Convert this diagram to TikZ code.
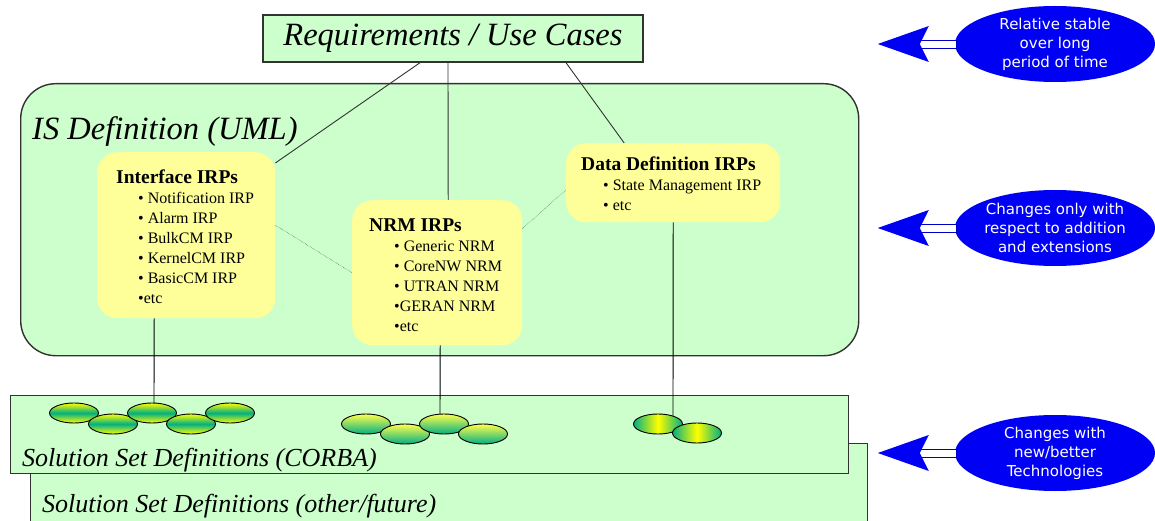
\documentclass[tikz,border=0pt]{standalone}
\usepackage{fontspec}
\setmainfont{Liberation Serif}
\newfontfamily\notefont{DejaVu Sans}
\usetikzlibrary{shapes.geometric, arrows, positioning, calc}

\definecolor{palegreen}{RGB}{204,255,204}
\definecolor{paleyellow}{RGB}{255,255,153}
\definecolor{seagreen}{RGB}{0,175,130}
\definecolor{noteblue}{RGB}{0,0,245}
\definecolor{edgegray}{RGB}{50,50,50}
\newcommand{\irphead}{\fontsize{19.5}{20}\selectfont\bfseries}

\begin{document}
\begin{tikzpicture}[x=1pt, y=-1pt,
    greenbox/.style={draw=edgegray, line width=1.4pt, fill=palegreen, inner sep=0pt},
    irpbox/.style={fill=paleyellow, rounded corners=20pt, inner sep=0pt, anchor=north west},
    irptext/.style={anchor=north west, align=left, inner sep=0pt, font=\fontsize{16}{19.9}\selectfont},
    bigtext/.style={anchor=base west, inner sep=0pt, font=\fontsize{32.5}{36}\selectfont\itshape},
    settext/.style={anchor=base west, inner sep=0pt, font=\fontsize{26}{30}\selectfont\itshape},
    blob/.style={ellipse, draw=black, line width=0.9pt, minimum width=49pt, minimum height=20pt, inner sep=0pt},
    bandblob/.style={blob, top color=yellow, bottom color=yellow, middle color=seagreen},
    fadeblob/.style={blob, top color=yellow!70!white, bottom color=seagreen},
    sideblob/.style={blob, left color=seagreen, right color=seagreen, middle color=yellow},
    note/.style={ellipse, fill=noteblue, minimum width=200pt, minimum height=76pt, inner sep=0pt,
        align=center, text=white, font=\notefont\fontsize{15}{19}\selectfont},
]
\useasboundingbox (0,0) rectangle (1155,521);

% solution set layers
\node[greenbox, minimum width=837pt, minimum height=100pt, anchor=north west] (other) at (30,443) {};
\node[greenbox, minimum width=838pt, minimum height=78pt, anchor=north west] (corba) at (10,395) {};
\node[settext] (othertitle) at (42,512) {Solution Set Definitions (other/future)};
\node[settext] (corbatitle) at (22,466) {Solution Set Definitions (CORBA)};

% IS definition
\node[greenbox, rounded corners=35pt, minimum width=838pt, minimum height=272pt, anchor=north west] (isdef) at (20,83) {};
\node[bigtext] (istitle) at (32,140) {IS Definition (UML)};

\node[greenbox, minimum width=380pt, minimum height=47pt, font=\fontsize{32.5}{36}\selectfont\itshape] (req) at (453,38.5) {Requirements / Use Cases};

\node[irpbox, minimum width=178pt, minimum height=166pt] (intf) at (97,152) {};
\node[irpbox, minimum width=170pt, minimum height=145pt] (nrm) at (352,200) {};
\node[irpbox, minimum width=214pt, minimum height=79pt] (dd) at (566,143) {};

\node[irptext] (intftxt) at (116,170) {{\irphead Interface IRPs}\\
    \hspace*{22pt}• Notification IRP\\ \hspace*{22pt}• Alarm IRP\\ \hspace*{22pt}• BulkCM IRP\\
    \hspace*{22pt}• KernelCM IRP\\ \hspace*{22pt}• BasicCM IRP\\ \hspace*{22pt}•etc};
\node[irptext] (nrmtxt) at (369,219) {{\irphead NRM IRPs}\\
    \hspace*{25pt}• Generic NRM\\ \hspace*{25pt}• CoreNW NRM\\ \hspace*{25pt}• UTRAN NRM\\
    \hspace*{25pt}•GERAN NRM\\ \hspace*{25pt}•etc};
\node[irptext] (ddtxt) at (581,157) {{\irphead Data Definition IRPs}\\
    \hspace*{22pt}• State Management IRP\\ \hspace*{22pt}• etc};

% links
\draw[edgegray, line width=0.9pt] ($(req.south)+(-33,0)$) -- (intf.39);
\draw[edgegray, line width=0.9pt] ($(req.south)+(-5,0)$) -- ($(nrm.north)+(11,0)$);
\draw[edgegray, line width=0.9pt] ($(req.south)+(113,0)$) -- ($(dd.north)+(-49,0)$);
\draw[densely dotted, gray!30!black] ($(intf.east)+(0,-10)$) -- (nrm.west);
\draw[densely dotted, gray!30!black] ($(nrm.east)+(0,-44)$) -- ($(dd.west)+(0,7)$);

% solution set items
\draw[line width=0.9pt] ($(intf.south)+(-32,0)$) -- (154,403);
\draw[line width=0.9pt] ($(nrm.south)+(3,0)$) -- (440,414);
\draw[line width=0.9pt] ($(dd.south)+(0,0)$) -- (673,416);
\foreach \i/\x/\y in {1/74/413, 2/113/424, 3/152/413, 4/191/424, 5/230/413}
    \node[bandblob] (cA\i) at (\x,\y) {};
\foreach \i/\x/\y in {1/366/424, 2/405/434, 3/444/424, 4/483/434}
    \node[fadeblob] (cB\i) at (\x,\y) {};
\foreach \i/\x/\y in {1/658/424, 2/697/433}
    \node[sideblob] (cC\i) at (\x,\y) {};

% notes on the right
\foreach \n/\y/\t in {nA/44/{Relative stable\\over long\\period of time},
        nB/228/{Changes only with\\respect to addition\\and extensions},
        nC/453/{Changes with\\new/better\\Technologies}} {
    \node[note] (\n) at (1055,\y) {\t};
    \draw[noteblue!80!black, fill=white, line width=0.8pt] ($(\n.west)+(-36,-4)$) rectangle ($(\n.west)+(2,4)$);
    \fill[noteblue] ($(\n.west)+(-77,0)$) -- ++(51,-18) -- ++(-9,18) -- ++(9,18) -- cycle;
}
\end{tikzpicture}
\end{document}
